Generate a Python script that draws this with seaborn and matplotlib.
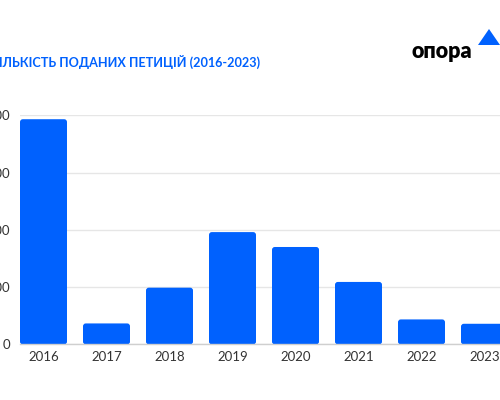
import matplotlib
matplotlib.use("Agg")
import matplotlib.pyplot as plt
import seaborn as sns
import pandas as pd
from matplotlib.patches import FancyBboxPatch, Polygon

years = ["2016", "2017", "2018", "2019", "2020", "2021", "2022", "2023"]
petitions = [3930, 366, 990, 1960, 1700, 1090, 436, 360]
y_ticks = [0, 1000, 2000, 3000, 4000]
title = "КІЛЬКІСТЬ ПОДАНИХ ПЕТИЦІЙ (2016-2023)"
logo = "опора"

BLUE = "#0061FE"

sns.set_theme(style="white")
plt.rcParams['font.family'] = ['Lato', 'DejaVu Sans']

df = pd.DataFrame({"year": years, "count": petitions})

fig = plt.figure(figsize=(5, 4), dpi=100)
ax = fig.add_axes([0.04, 0.139, 0.976, 0.573])

sns.barplot(data=df, x="year", y="count", color=BLUE, width=0.746,
            saturation=1, ax=ax, zorder=3)

# rounded bar corners
patches = list(ax.patches)
for p in patches:
    x, y = p.get_x(), p.get_y()
    w, h = p.get_width(), p.get_height()
    fb = FancyBboxPatch((x, y), w, h,
                        boxstyle="round,pad=0,rounding_size=0.045",
                        mutation_aspect=1100, facecolor=BLUE,
                        edgecolor="none", zorder=3)
    p.remove()
    ax.add_patch(fb)

ax.set_xlim(-0.373, 7.373)
ax.set_ylim(0, 4000)
ax.set_yticks(y_ticks)
ax.set_yticklabels([str(v) for v in y_ticks])
ax.yaxis.grid(True, color="#e6e6e6", linewidth=1, zorder=0)
ax.set_axisbelow(True)
for s in ["top", "right", "left"]:
    ax.spines[s].set_visible(False)
ax.spines["bottom"].set_color("#cfcfcf")
ax.spines["bottom"].set_linewidth(1)
ax.spines["bottom"].set_zorder(4)
ax.tick_params(axis="both", length=0, labelsize=9.5, labelcolor="#333333")
ax.tick_params(axis="y", pad=7.2)
ax.tick_params(axis="x", pad=4.5)
ax.set_xlabel("")
ax.set_ylabel("")

fig.text(260 / 500, 1 - 62 / 400, title, ha="right", va="center",
         fontsize=9.12, fontweight="bold", color=BLUE)

fig.text(411 / 500, 1 - 51 / 400, logo, ha="left", va="center",
         fontsize=15.5, fontweight="heavy", color="black")
tri = Polygon([[478 / 500, 1 - 45 / 400], [500 / 500, 1 - 45 / 400],
               [489 / 500, 1 - 29 / 400]], closed=True,
              transform=fig.transFigure, facecolor=BLUE, edgecolor="none")
fig.patches.append(tri)

fig.savefig("out.png", dpi=100)
